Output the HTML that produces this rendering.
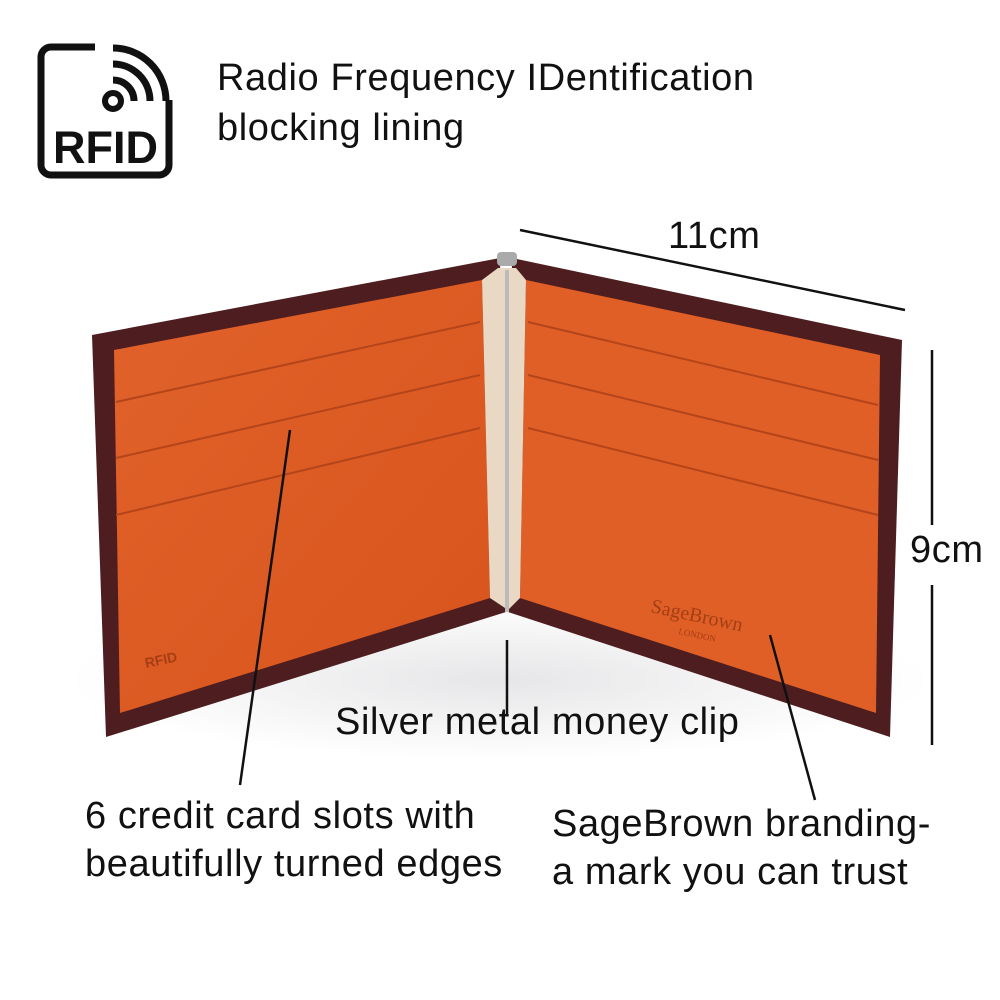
<!DOCTYPE html>
<html><head><meta charset="utf-8"><style>
html,body{margin:0;padding:0;background:#fff;}
body{width:1000px;height:1000px;overflow:hidden;position:relative;font-family:"Liberation Sans",sans-serif;}
.t{position:absolute;color:#111;font-size:38px;letter-spacing:0.6px;line-height:48px;white-space:nowrap;}
</style></head><body>
<svg width="1000" height="1000" style="position:absolute;left:0;top:0">
<defs>
<radialGradient id="sh" cx="50%" cy="50%" r="50%"><stop offset="0" stop-color="#e6e6e8"/><stop offset="1" stop-color="#fff"/></radialGradient>
<linearGradient id="orL" x1="0" y1="0" x2="1" y2="1"><stop offset="0" stop-color="#e0622a"/><stop offset="1" stop-color="#d9541d"/></linearGradient>
</defs>
<ellipse cx="500" cy="680" rx="430" ry="80" fill="url(#sh)"/>
<!-- RFID icon -->
<rect x="41" y="47" width="128" height="128" rx="10" fill="none" stroke="#111" stroke-width="7"/>
<rect x="95" y="40" width="80" height="60" fill="#fff"/>
<circle cx="113" cy="101" r="8" fill="none" stroke="#111" stroke-width="6"/>
<path d="M113 80 A21 21 0 0 1 134 101" fill="none" stroke="#111" stroke-width="7"/>
<path d="M113 64 A37 37 0 0 1 150 101" fill="none" stroke="#111" stroke-width="7"/>
<path d="M113 48 A53 53 0 0 1 166 101" fill="none" stroke="#111" stroke-width="7"/>
<text x="53" y="163" font-family="Liberation Sans" font-weight="bold" font-size="45" fill="#111">RFID</text>
<!-- wallet left -->
<polygon points="92,335 500,258 506,612 106,737" fill="#4e1d1f"/>
<polygon points="114,350 482,280 490,598 120,713" fill="url(#orL)"/>
<!-- wallet right -->
<polygon points="512,258 902,340 890,737 508,612" fill="#4e1d1f"/>
<polygon points="526,280 880,355 876,713 520,598" fill="#e05f26"/>
<!-- center -->
<polygon points="482,280 498,268 516,268 526,280 520,598 508,610 490,598" fill="#e8d8c4"/>
<line x1="507" y1="270" x2="507" y2="612" stroke="#bbb" stroke-width="4"/>
<rect x="497" y="252" width="20" height="14" rx="4" fill="#aaa"/>
<!-- slots -->
<g stroke="#b4441a" stroke-width="2" fill="none">
<line x1="116" y1="402" x2="480" y2="322"/><line x1="116" y1="458" x2="480" y2="375"/><line x1="116" y1="515" x2="480" y2="428"/>
<line x1="528" y1="322" x2="878" y2="405"/><line x1="528" y1="375" x2="878" y2="460"/><line x1="528" y1="428" x2="878" y2="515"/>
</g>
<text x="650" y="612" font-family="Liberation Serif" font-size="20" fill="#a53e14" transform="rotate(12 650 612)">SageBrown</text>
<text x="678" y="634" font-family="Liberation Serif" font-size="9" fill="#a53e14" transform="rotate(12 678 634)">LONDON</text>
<text x="146" y="668" font-family="Liberation Sans" font-weight="bold" font-size="14" fill="#a53e14" transform="rotate(-12 146 668)">RFID</text>
<!-- dimension & pointer lines -->
<g stroke="#111" stroke-width="2.5">
<line x1="520" y1="230" x2="905" y2="310"/>
<line x1="932" y1="350" x2="932" y2="525"/><line x1="932" y1="585" x2="932" y2="745"/>
<line x1="290" y1="430" x2="240" y2="785"/>
<line x1="507" y1="640" x2="507" y2="715"/>
<line x1="770" y1="635" x2="815" y2="800"/>
</g>
</svg>
<div class="t" style="left:217px;top:54px">Radio Frequency IDentification</div>
<div class="t" style="left:217px;top:104px">blocking lining</div>
<div class="t" style="left:668px;top:212px">11cm</div>
<div class="t" style="left:910px;top:526px">9cm</div>
<div class="t" style="left:335px;top:698px">Silver metal money clip</div>
<div class="t" style="left:85px;top:792px">6 credit card slots with</div>
<div class="t" style="left:85px;top:840px">beautifully turned edges</div>
<div class="t" style="left:552px;top:800px">SageBrown branding-</div>
<div class="t" style="left:552px;top:848px">a mark you can trust</div>
</body></html>
